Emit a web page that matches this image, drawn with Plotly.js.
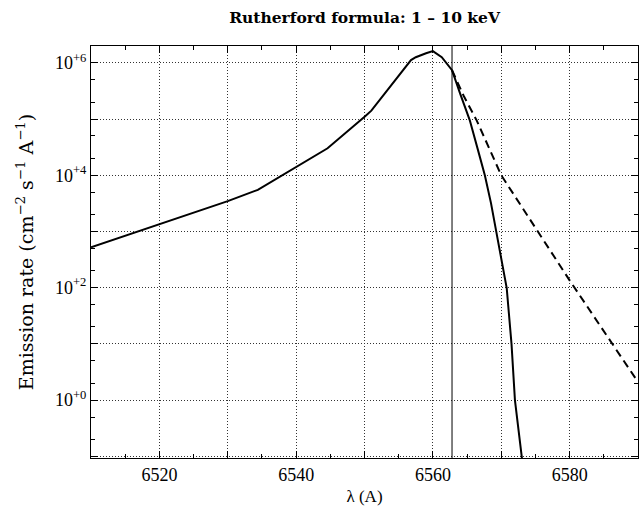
<!DOCTYPE html>
<html>
<head>
<meta charset="utf-8">
<script src="https://cdn.plot.ly/plotly-3.0.1.min.js"></script>
<style>html,body{margin:0;padding:0;background:#fff;}#chart{width:643px;height:506px;}</style>
</head>
<body>
<div id="chart"></div>
<script>
// Solid curve: wavelength (A) and emission rate
var solidX = [6510, 6530, 6534.4, 6540, 6544.6, 6550.1, 6551, 6556.8, 6557.5, 6559, 6560, 6561.3, 6562.8, 6564, 6565.4, 6566.6, 6567.6, 6568.5, 6569.3, 6570.8, 6571.5, 6572.0, 6573.0, 6573.3];
var solidY = [525, 3470, 5500, 14100, 30200, 112000, 141000, 1120000, 1260000, 1480000, 1620000, 1260000, 740000, 280000, 95000, 28000, 10000, 3200, 980, 98, 10, 1.0, 0.098, 0.05];
// Dashed curve
var dashX = [6562.8, 6564.5, 6566.4, 6568.3, 6570, 6580, 6590];
var dashY = [740000, 260000, 95000, 28000, 10000, 135, 2.1];
// Reference line (H-alpha)
var refLineX = [6562.8];
// Tick values / labels
var xTickVals = [6510, 6520, 6530, 6540, 6550, 6560, 6570, 6580, 6590];
var xTickText = ['', '6520', '', '6540', '', '6560', '', '6580', ''];
var xMinorVals = [6515, 6525, 6535, 6545, 6555, 6565, 6575, 6585];
var yTickVals = [0.1, 1, 10, 100, 1e3, 1e4, 1e5, 1e6];
var yTickText = ['', '10<sup>+0</sup>', '', '10<sup>+2</sup>', '', '10<sup>+4</sup>', '', '10<sup>+6</sup>'];
var yMinorVals = [0.2, 0.5, 2, 5, 20, 50, 200, 500, 2e3, 5e3, 2e4, 5e4, 2e5, 5e5, 2e6];

var serif = 'Liberation Serif, DejaVu Serif, serif';
var gridDash = '1px,2px';
var gridColor = '#333';

var traces = [
  {x: solidX, y: solidY, type: 'scatter', mode: 'lines', line: {color: '#000', width: 2}, hoverinfo: 'skip'},
  {x: dashX, y: dashY, type: 'scatter', mode: 'lines', line: {color: '#000', width: 2, dash: '8px,5px'}, hoverinfo: 'skip'}
];

var layout = {
  width: 643, height: 506,
  margin: {l: 91, r: 5, t: 46, b: 48},
  paper_bgcolor: '#fff', plot_bgcolor: '#fff',
  showlegend: false,
  font: {family: serif, color: '#000', size: 16},
  title: {text: '<b>Rutherford formula: 1 – 10 keV</b>', x: 0.567, xanchor: 'center', y: 0.965, yanchor: 'middle',
          font: {family: 'DejaVu Serif, serif', size: 15.5, color: '#000'}},
  xaxis: {
    range: [6510, 6590],
    tickmode: 'array', tickvals: xTickVals, ticktext: xTickText,
    ticks: 'inside', ticklen: 7, tickcolor: '#000', tickwidth: 1,
    showline: true, linecolor: '#000', linewidth: 1, mirror: 'allticks',
    showgrid: true, gridcolor: gridColor, griddash: gridDash, gridwidth: 1,
    zeroline: false,
    minor: {tickmode: 'array', tickvals: xMinorVals, ticks: 'inside', ticklen: 4, tickcolor: '#000', showgrid: false},
    tickfont: {family: serif, size: 18},
    title: {text: 'λ (A)', font: {family: serif, size: 17}, standoff: 8}
  },
  yaxis: {
    type: 'log', range: [-1.03, 6.3],
    tickmode: 'array', tickvals: yTickVals, ticktext: yTickText,
    ticks: 'inside', ticklen: 7, tickcolor: '#000', tickwidth: 1,
    showline: true, linecolor: '#000', linewidth: 1, mirror: 'allticks',
    showgrid: true, gridcolor: gridColor, griddash: gridDash, gridwidth: 1,
    zeroline: false,
    minor: {tickmode: 'array', tickvals: yMinorVals, ticks: 'inside', ticklen: 4, tickcolor: '#000', showgrid: false},
    tickfont: {family: serif, size: 18},
    title: {text: 'Emission rate (cm<sup>−2</sup> s<sup>−1</sup> A<sup>−1</sup>)', font: {family: 'DejaVu Serif, serif', size: 19}, standoff: 16}
  },
  shapes: refLineX.map(function (v) {
    return {type: 'line', xref: 'x', yref: 'paper', x0: v, x1: v, y0: 0, y1: 1, line: {color: '#000', width: 1}};
  })
};

Plotly.newPlot('chart', traces, layout, {staticPlot: true, displayModeBar: false});
</script>
</body>
</html>
